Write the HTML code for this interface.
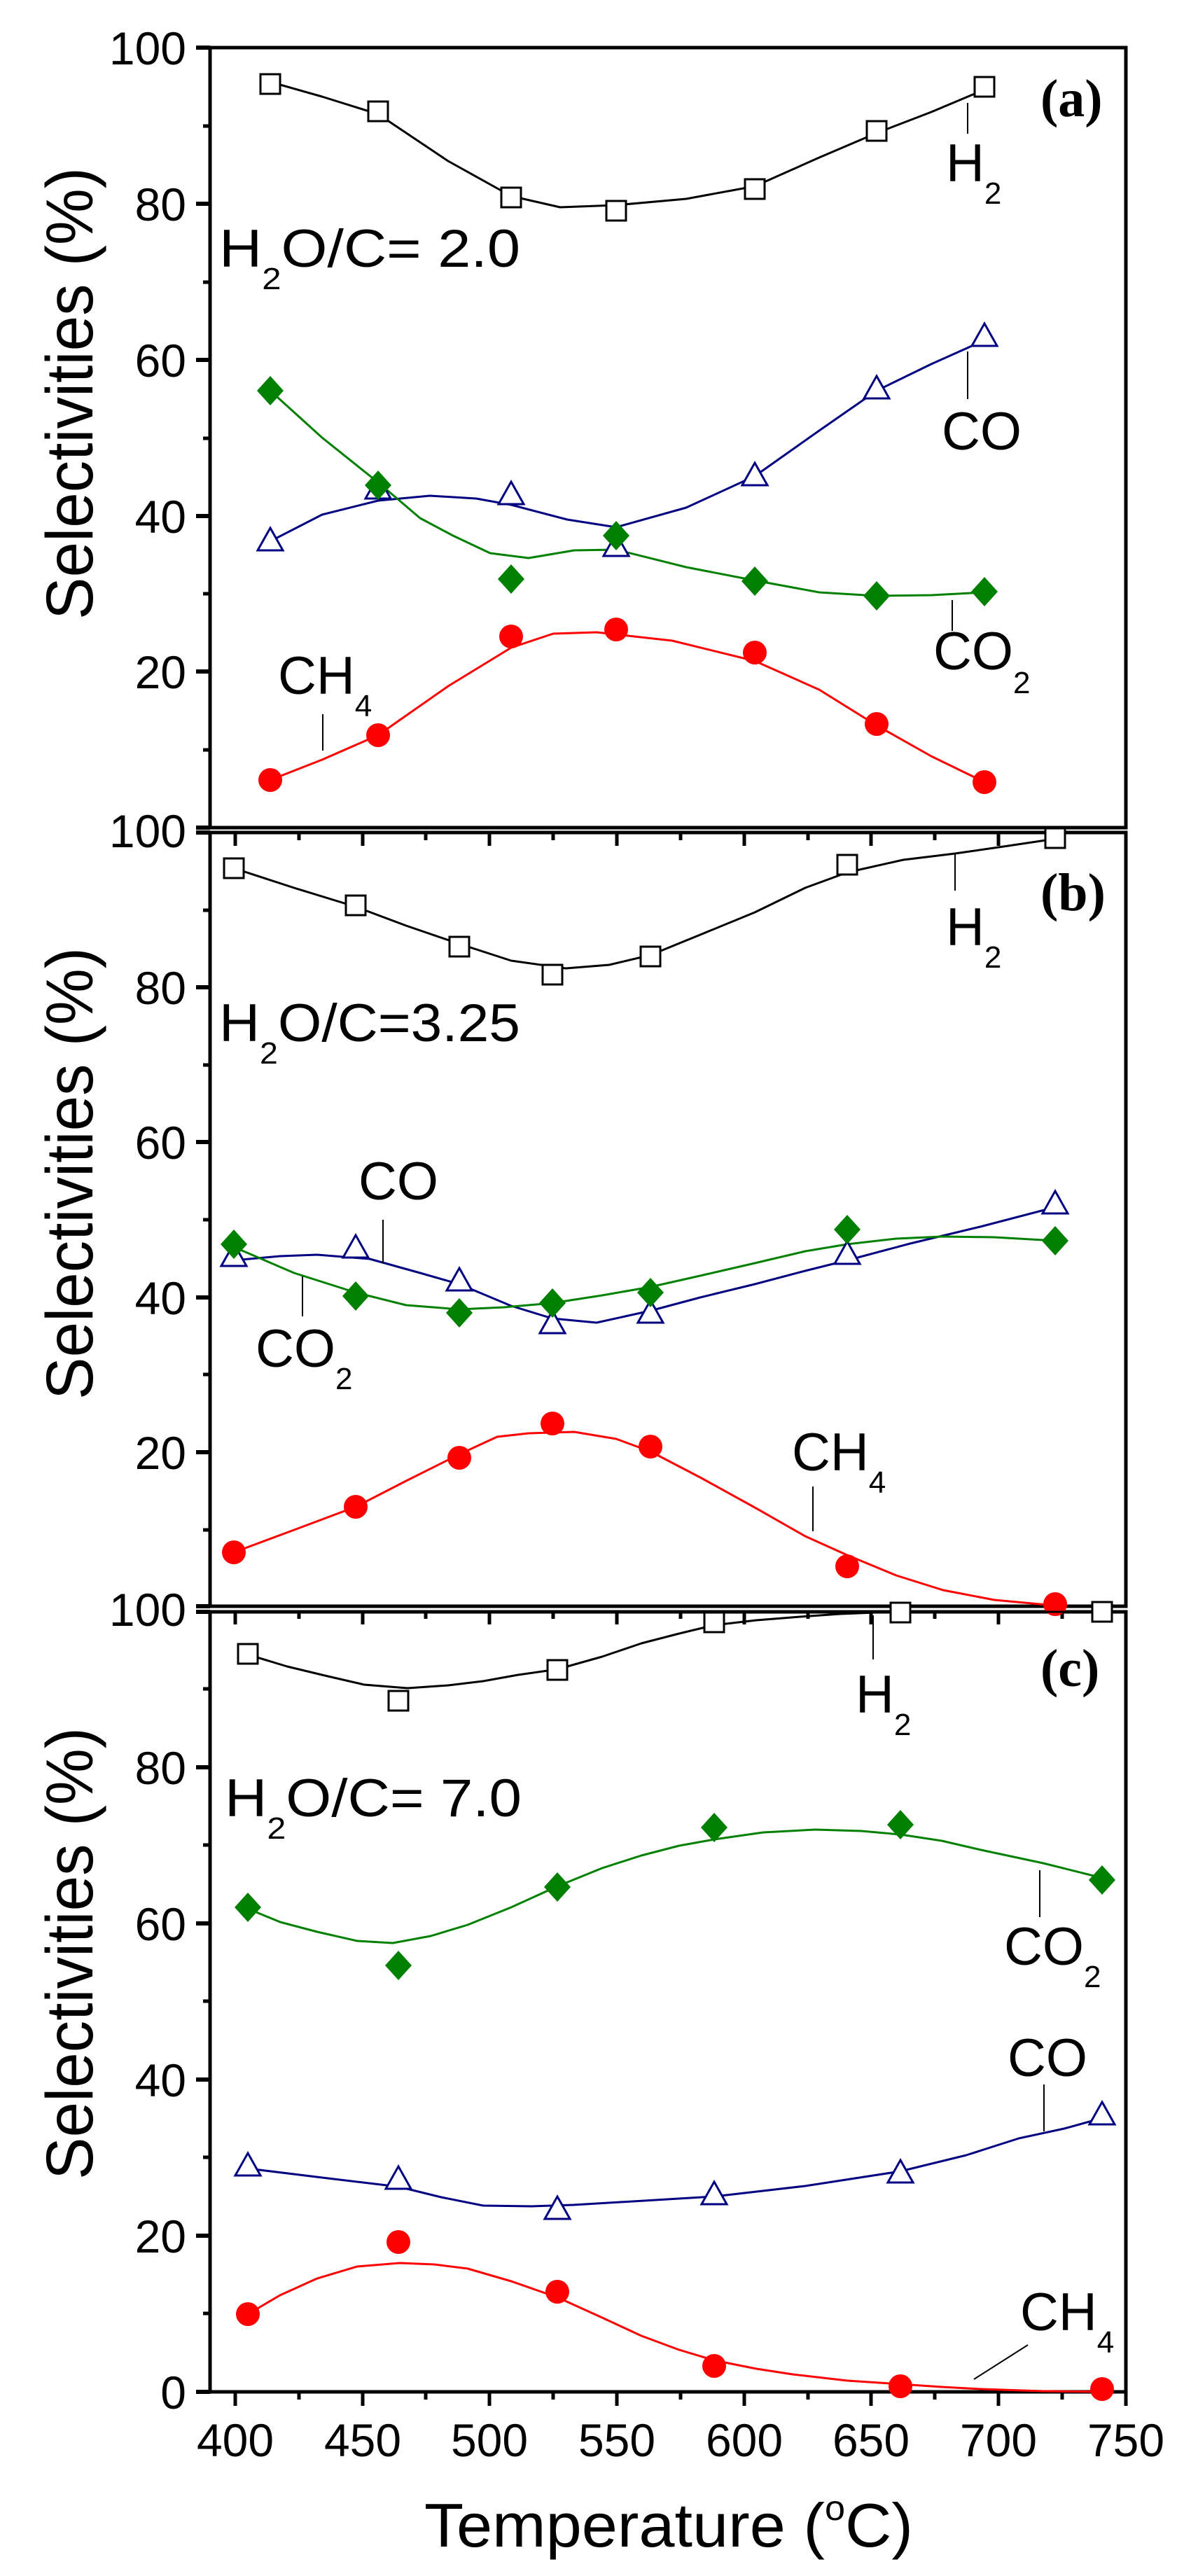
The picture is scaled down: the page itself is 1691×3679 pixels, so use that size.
<!DOCTYPE html>
<html><head><meta charset="utf-8"><style>
html,body{margin:0;padding:0;background:#fff;}
svg{display:block;}
text{font-family:"Liberation Sans",Arial,sans-serif;}
.t{font-size:66px;}
.lb{font-size:76px;}
.sb{font-size:44px;}
.pl{font-family:"Liberation Serif",serif;font-weight:bold;font-size:76px;}
</style></head><body>
<svg width="1691" height="3679" viewBox="0 0 1691 3679" xmlns="http://www.w3.org/2000/svg">
<rect width="1691" height="3679" fill="#fff"/>
<defs>
<rect id="sq" x="-14" y="-14" width="28" height="28" fill="#fff" stroke="#000" stroke-width="3"/>
<circle id="ci" r="17" fill="#f00"/>
<polygon id="tr" points="0,-19 18,13 -18,13" fill="#fff" stroke="#000080" stroke-width="3"/>
<polygon id="di" points="0,-21 19,0 0,21 -19,0" fill="#008000"/>
</defs>

<!-- frames -->
<g fill="none" stroke="#000" stroke-width="5">
<rect x="300" y="68" width="1308" height="1114"/>
<rect x="300" y="1189" width="1308" height="1105"/>
<rect x="300" y="2302" width="1308" height="1114"/>
</g>

<!-- y ticks -->
<g stroke="#000" stroke-width="6">
<path d="M280 68H300M280 291H300M280 514H300M280 737H300M280 959H300M280 1182H300"/>
<path d="M290 180H300M290 403H300M290 626H300M290 848H300M290 1071H300" stroke-width="5"/>
<path d="M280 1189H300M280 1410H300M280 1631H300M280 1853H300M280 2074H300M280 2294H300"/>
<path d="M290 1300H300M290 1521H300M290 1742H300M290 1963H300M290 2185H300" stroke-width="5"/>
<path d="M280 2302H300M280 2524H300M280 2747H300M280 2970H300M280 3193H300M280 3416H300"/>
<path d="M290 2412H300M290 2635H300M290 2858H300M290 3081H300M290 3304H300" stroke-width="5"/>
</g>
<!-- x ticks -->
<g stroke="#000" stroke-width="5">
<path d="M336 1189V1208M518 1189V1208M699 1189V1208M881 1189V1208M1063 1189V1208M1244 1189V1208M1426 1189V1208"/>
<path d="M427 1189V1200M608 1189V1200M790 1189V1200M972 1189V1200M1154 1189V1200M1335 1189V1200M1517 1189V1200"/>
<path d="M336 2302V2320M518 2302V2320M699 2302V2320M881 2302V2320M1063 2302V2320M1244 2302V2320M1426 2302V2320"/>
<path d="M427 2302V2312M608 2302V2312M790 2302V2312M972 2302V2312M1154 2302V2312M1335 2302V2312M1517 2302V2312"/>
<path d="M336 3416V3436M518 3416V3436M699 3416V3436M881 3416V3436M1063 3416V3436M1244 3416V3436M1426 3416V3436M1608 3416V3436"/>
<path d="M427 3416V3427M608 3416V3427M790 3416V3427M972 3416V3427M1154 3416V3427M1335 3416V3427M1517 3416V3427"/>
</g>

<!-- y labels -->
<g class="t" text-anchor="end">
<text x="266" y="92">100</text><text x="266" y="315">80</text><text x="266" y="538">60</text><text x="266" y="761">40</text><text x="266" y="983">20</text>
<text x="266" y="1210">100</text><text x="266" y="1434">80</text><text x="266" y="1655">60</text><text x="266" y="1877">40</text><text x="266" y="2098">20</text>
<text x="266" y="2322">100</text><text x="266" y="2548">80</text><text x="266" y="2771">60</text><text x="266" y="2994">40</text><text x="266" y="3217">20</text><text x="266" y="3440">0</text>
</g>
<!-- x labels -->
<g class="t" text-anchor="middle">
<text x="336" y="3508">400</text><text x="518" y="3508">450</text><text x="699" y="3508">500</text><text x="881" y="3508">550</text><text x="1063" y="3508">600</text><text x="1244" y="3508">650</text><text x="1426" y="3508">700</text><text x="1608" y="3508">750</text>
</g>
<text x="606" y="3637" font-size="88" textLength="698" lengthAdjust="spacingAndGlyphs">Temperature (<tspan font-size="50" dy="-38">o</tspan><tspan dy="38">C)</tspan></text>

<!-- y axis titles -->
<text transform="translate(132,885) rotate(-90)" font-size="95" textLength="646" lengthAdjust="spacingAndGlyphs">Selectivities (%)</text>
<text transform="translate(132,1999) rotate(-90)" font-size="95" textLength="646" lengthAdjust="spacingAndGlyphs">Selectivities (%)</text>
<text transform="translate(132,3113) rotate(-90)" font-size="95" textLength="646" lengthAdjust="spacingAndGlyphs">Selectivities (%)</text>

<!-- ===== Panel a ===== -->
<g fill="none" stroke-width="3" stroke-linejoin="round">
<polyline stroke="#000" points="386,117 460,138 540,163 640,230 730,280 800,296 880,293 980,284 1078,266 1170,225 1252,190 1330,160 1406,128"/>
<polyline stroke="#000080" points="386,773 460,735 540,715 614,708 680,712 730,721 810,742 880,753 980,725 1078,680 1170,615 1252,558 1330,520 1406,486"/>
<polyline stroke="#008000" points="386,558 460,625 540,689 600,740 647,765 700,790 755,797 820,786 880,785 980,810 1078,829 1170,846 1252,851 1330,850 1406,846"/>
<polyline stroke="#f00" points="386,1114 460,1085 540,1050 640,980 730,925 790,905 852,903 960,915 1078,944 1170,985 1252,1036 1330,1080 1406,1117"/>
</g>
<g>
<use href="#sq" x="386" y="120"/><use href="#sq" x="540" y="159"/><use href="#sq" x="730" y="282"/><use href="#sq" x="880" y="301"/><use href="#sq" x="1078" y="270"/><use href="#sq" x="1252" y="187"/><use href="#sq" x="1406" y="124"/>
<use href="#tr" x="386" y="773"/><use href="#tr" x="540" y="699"/><use href="#tr" x="730" y="707"/><use href="#tr" x="880" y="781"/><use href="#tr" x="1078" y="680"/><use href="#tr" x="1252" y="556"/><use href="#tr" x="1406" y="481"/>
<use href="#di" x="386" y="558"/><use href="#di" x="540" y="693"/><use href="#di" x="730" y="827"/><use href="#di" x="880" y="765"/><use href="#di" x="1078" y="830"/><use href="#di" x="1252" y="851"/><use href="#di" x="1406" y="845"/>
<use href="#ci" x="386" y="1114"/><use href="#ci" x="540" y="1050"/><use href="#ci" x="730" y="909"/><use href="#ci" x="880" y="899"/><use href="#ci" x="1078" y="932"/><use href="#ci" x="1252" y="1034"/><use href="#ci" x="1406" y="1117"/>
</g>
<g stroke="#000" stroke-width="2">
<path d="M1382 147V191M1382 502V570M1360 857V901M461 1020V1072"/>
</g>
<text class="pl" x="1486" y="166">(a)</text>
<text class="lb" x="1351" y="259">H<tspan class="sb" dy="32">2</tspan></text>
<text class="lb" x="313" y="381" textLength="430" lengthAdjust="spacingAndGlyphs">H<tspan class="sb" dy="32">2</tspan><tspan dy="-32">O/C= 2.0</tspan></text>
<text class="lb" x="1345" y="642">CO</text>
<text class="lb" x="1333" y="956">CO<tspan class="sb" dy="34">2</tspan></text>
<text class="lb" x="397" y="991">CH<tspan class="sb" dy="32">4</tspan></text>

<!-- ===== Panel b ===== -->
<g fill="none" stroke-width="3" stroke-linejoin="round">
<polyline stroke="#000" points="334,1240 420,1268 508,1295 580,1322 656,1348 730,1372 808,1383 870,1378 929,1364 1000,1335 1078,1303 1150,1268 1210,1246 1290,1228 1364,1219 1440,1208 1507,1198"/>
<polyline stroke="#000080" points="334,1800 400,1794 453,1792 528,1798 600,1818 656,1834 730,1865 789,1883 852,1889 929,1872 1000,1853 1078,1834 1150,1815 1210,1800 1300,1776 1400,1752 1507,1724"/>
<polyline stroke="#008000" points="334,1781 420,1818 508,1846 580,1864 656,1870 720,1867 789,1861 860,1850 929,1838 1000,1822 1078,1804 1150,1787 1210,1777 1280,1769 1347,1766 1420,1767 1507,1772"/>
<polyline stroke="#f00" points="334,2217 420,2185 508,2152 580,2115 656,2077 710,2052 755,2047 820,2045 880,2055 929,2073 1000,2110 1078,2153 1150,2194 1210,2221 1280,2250 1347,2271 1420,2285 1507,2293"/>
</g>
<g>
<use href="#sq" x="334" y="1240"/><use href="#sq" x="508" y="1293"/><use href="#sq" x="656" y="1352"/><use href="#sq" x="789" y="1392"/><use href="#sq" x="929" y="1366"/><use href="#sq" x="1210" y="1235"/><use href="#sq" x="1507" y="1197"/>
<use href="#tr" x="334" y="1795"/><use href="#tr" x="508" y="1783"/><use href="#tr" x="656" y="1830"/><use href="#tr" x="789" y="1891"/><use href="#tr" x="929" y="1876"/><use href="#tr" x="1210" y="1792"/><use href="#tr" x="1507" y="1720"/>
<use href="#di" x="334" y="1777"/><use href="#di" x="508" y="1851"/><use href="#di" x="656" y="1875"/><use href="#di" x="789" y="1861"/><use href="#di" x="929" y="1846"/><use href="#di" x="1210" y="1756"/><use href="#di" x="1507" y="1772"/>
<use href="#ci" x="334" y="2217"/><use href="#ci" x="508" y="2152"/><use href="#ci" x="656" y="2082"/><use href="#ci" x="789" y="2033"/><use href="#ci" x="929" y="2066"/><use href="#ci" x="1210" y="2237"/><use href="#ci" x="1507" y="2291"/>
</g>
<g stroke="#000" stroke-width="2">
<path d="M1364 1219V1272M547 1742V1804M432 1823V1880M1161 2123V2187"/>
</g>
<text class="pl" x="1486" y="1300">(b)</text>
<text class="lb" x="1351" y="1350">H<tspan class="sb" dy="32">2</tspan></text>
<text class="lb" x="313" y="1487" textLength="430" lengthAdjust="spacingAndGlyphs">H<tspan class="sb" dy="32">2</tspan><tspan dy="-32">O/C=3.25</tspan></text>
<text class="lb" x="512" y="1713">CO</text>
<text class="lb" x="365" y="1952">CO<tspan class="sb" dy="32">2</tspan></text>
<text class="lb" x="1131" y="2100">CH<tspan class="sb" dy="32">4</tspan></text>

<!-- ===== Panel c ===== -->
<g fill="none" stroke-width="3" stroke-linejoin="round">
<polyline stroke="#000" points="354,2363 410,2380 464,2393 520,2406 582,2411 640,2407 690,2401 740,2392 796,2384 860,2366 916,2347 970,2333 1020,2321 1080,2314 1143,2309 1200,2305 1250,2303 1320,2302 1401,2302 1500,2302 1606,2302"/>
<polyline stroke="#008000" points="354,2726 400,2745 453,2759 510,2772 561,2775 615,2765 668,2749 730,2724 796,2694 860,2668 916,2650 970,2636 1020,2627 1090,2617 1164,2613 1230,2615 1286,2620 1345,2629 1401,2642 1490,2661 1574,2682"/>
<polyline stroke="#000080" points="354,3097 460,3110 569,3123 630,3138 690,3150 760,3151 819,3149 920,3143 1020,3137 1150,3122 1286,3101 1380,3078 1455,3054 1520,3040 1574,3025"/>
<polyline stroke="#f00" points="354,3305 400,3278 453,3254 510,3237 571,3232 620,3234 668,3240 730,3258 796,3281 860,3310 916,3336 970,3356 1020,3371 1080,3383 1132,3391 1210,3400 1286,3405 1345,3409 1401,3412 1490,3415 1574,3416"/>
</g>
<g>
<use href="#sq" x="354" y="2362"/><use href="#sq" x="569" y="2429"/><use href="#sq" x="796" y="2385"/><use href="#sq" x="1020" y="2317"/><use href="#sq" x="1286" y="2303"/><use href="#sq" x="1574" y="2302"/>
<use href="#di" x="354" y="2724"/><use href="#di" x="569" y="2807"/><use href="#di" x="796" y="2695"/><use href="#di" x="1020" y="2610"/><use href="#di" x="1286" y="2606"/><use href="#di" x="1574" y="2685"/>
<use href="#tr" x="354" y="3094"/><use href="#tr" x="569" y="3113"/><use href="#tr" x="796" y="3156"/><use href="#tr" x="1020" y="3135"/><use href="#tr" x="1286" y="3104"/><use href="#tr" x="1574" y="3021"/>
<use href="#ci" x="354" y="3305"/><use href="#ci" x="569" y="3202"/><use href="#ci" x="796" y="3273"/><use href="#ci" x="1020" y="3379"/><use href="#ci" x="1286" y="3408"/><use href="#ci" x="1574" y="3412"/>
</g>
<g stroke="#000" stroke-width="2">
<path d="M1247 2307V2370M1485 2671V2738M1491 2977V3044M1391 3398L1468 3349"/>
</g>
<text class="pl" x="1486" y="2408">(c)</text>
<text class="lb" x="1222" y="2446">H<tspan class="sb" dy="32">2</tspan></text>
<text class="lb" x="321" y="2594" textLength="424" lengthAdjust="spacingAndGlyphs">H<tspan class="sb" dy="32">2</tspan><tspan dy="-32">O/C= 7.0</tspan></text>
<text class="lb" x="1434" y="2806">CO<tspan class="sb" dy="32">2</tspan></text>
<text class="lb" x="1439" y="2965">CO</text>
<text class="lb" x="1457" y="3328">CH<tspan class="sb" dy="32">4</tspan></text>
</svg>
</body></html>
